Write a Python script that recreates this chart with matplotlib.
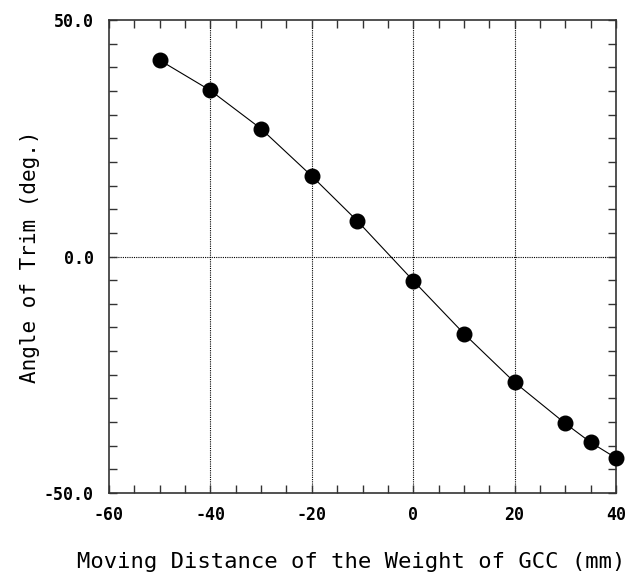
import matplotlib
matplotlib.use("Agg")
import matplotlib.pyplot as plt
from matplotlib.ticker import MultipleLocator, FixedLocator

distance = [-50, -40, -30, -20, -11, 0, 10, 20, 30, 35, 40]
trim = [41.5, 35.1, 27.0, 17.0, 7.5, -5.1, -16.3, -26.6, -35.3, -39.3, -42.6]
xticks = [-60, -40, -20, 0, 20, 40]
yticks = [-50.0, 0.0, 50.0]

fig = plt.figure(figsize=(6.37, 5.76), dpi=100)
ax = fig.add_axes([109/637, 1-493/576, (616-109)/637, (493-20)/576])

ax.plot(distance, trim, color="black", lw=0.8, marker="o", ms=10.5,
        mfc="black", mec="black", zorder=3, clip_on=False)

ax.set_xlim(-60, 40)
ax.set_ylim(-50, 50)
ax.xaxis.set_major_locator(FixedLocator(xticks))
ax.xaxis.set_minor_locator(MultipleLocator(5))
ax.yaxis.set_major_locator(FixedLocator(yticks))
ax.yaxis.set_minor_locator(MultipleLocator(5))
ax.set_xticklabels([f"{v:d}" for v in xticks], family="DejaVu Sans Mono",
                   fontweight="bold", fontsize=12)
ax.set_yticklabels([f"{v:.1f}" for v in yticks], family="DejaVu Sans Mono",
                   fontweight="bold", fontsize=12)
ax.tick_params(which="both", direction="in", top=True, right=True,
               length=6, width=1, color="#333333")
ax.tick_params(axis="y", pad=11)
ax.tick_params(axis="x", pad=9)

for v in xticks[1:-1]:
    ax.axvline(v, color="black", lw=0.8, ls=(0, (1, 1)), zorder=1)
ax.axhline(0, color="black", lw=0.8, ls=(0, (1, 1)), zorder=1)

for s in ax.spines.values():
    s.set_linewidth(1.2)
    s.set_color("#333333")

ax.set_xlabel("Moving Distance of the Weight of GCC (mm)",
              family="DejaVu Sans Mono", fontsize=16)
ax.xaxis.set_label_coords(0.478, -0.125)
ax.set_ylabel("Angle of Trim (deg.)", family="DejaVu Sans Mono",
              fontsize=15, labelpad=3)

fig.savefig("out.png", dpi=100)
